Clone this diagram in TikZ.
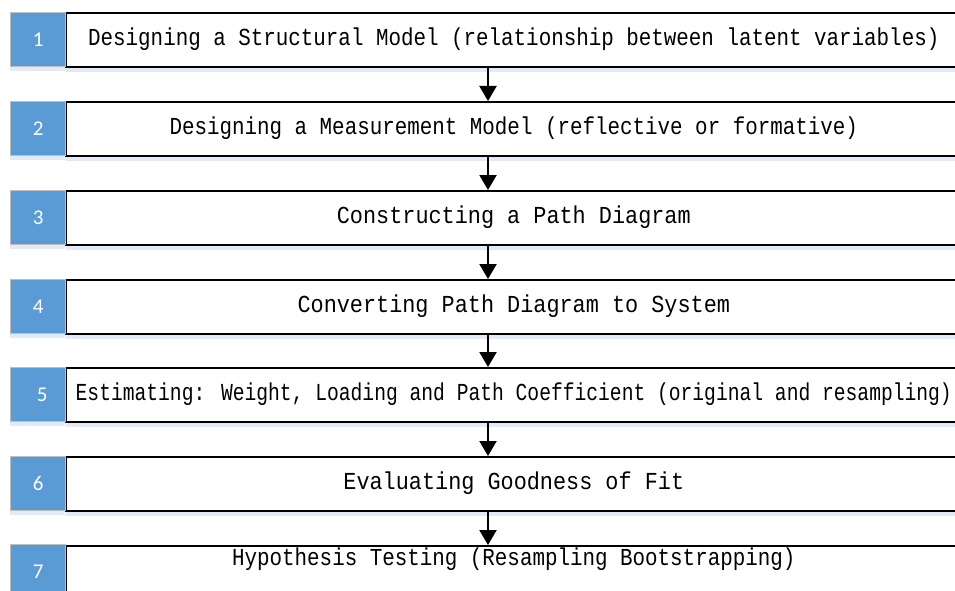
\documentclass[tikz,border=0pt]{standalone}
\usepackage{fontspec}
\newfontfamily\stepfont[FakeStretch=0.895]{Liberation Mono}
\newfontfamily\stepfontnarrow[FakeStretch=0.855]{Liberation Mono}
\newfontfamily\stepfonttight[FakeStretch=0.805]{Liberation Mono}
\newfontfamily\numfont{Carlito}
\usetikzlibrary{arrows.meta,shadows}
\definecolor{numblue}{HTML}{5B9BD5}
\definecolor{numedge}{HTML}{BFBFBF}
\definecolor{shadowblue}{HTML}{E1EAF6}
\tikzset{
    stepbox/.style={draw=black, line width=1.6pt, fill=white, anchor=north west,
        minimum width=896pt, minimum height=54pt, inner sep=0pt,
        text height=17pt, text depth=5pt,
        font={\stepfont\fontsize{24.4}{28}\selectfont},
        drop shadow={shadow xshift=0pt, shadow yshift=-5pt, fill=shadowblue, draw=none, opacity=1}},
    narrow/.style={font={\stepfontnarrow\fontsize{24.4}{28}\selectfont}},
    tight/.style={font={\stepfonttight\fontsize{24.4}{28}\selectfont}},
    numbox/.style={draw=numedge, line width=1.4pt, fill=numblue, anchor=north west,
        minimum width=55pt, minimum height=54pt, inner sep=0pt, text=white,
        font={\numfont\fontsize{21}{24}\selectfont},
        drop shadow={shadow xshift=-1pt, shadow yshift=-4pt, fill=shadowblue, draw=none, opacity=1}},
    flow/.style={line width=2.2pt, -{Triangle[width=17pt,length=15pt]}}
}
\begin{document}
\begin{tikzpicture}[x=1pt, y=-1pt]
        \useasboundingbox (0,0) rectangle (955,591);
        \fill [white] (0,0) rectangle (955,591);
        \coordinate (axis) at (488,0);

        % the seven stages
        \node [stepbox, narrow] (step1) at (65,12) {Designing a Structural Model (relationship between latent variables)};
        \node [numbox] (num1) at (10,12) {1};

        \node [stepbox, narrow] (step2) at (65,101) {Designing a Measurement Model (reflective or formative)};
        \node [numbox] (num2) at (10,101) {2};

        \node [stepbox] (step3) at (65,190) {Constructing a Path Diagram};
        \node [numbox] (num3) at (10,190) {3};

        \node [stepbox] (step4) at (65,279) {Converting Path Diagram to System};
        \node [numbox] (num4) at (10,279) {4};

        \node [stepbox, tight] (step5) at (65,367) {Estimating: Weight, Loading and Path Coefficient (original and resampling)};
        \node [numbox] (num5) at (10,367) {\hspace{8pt}5};

        \node [stepbox] (step6) at (65,456) {Evaluating Goodness of Fit};
        \node [numbox] (num6) at (10,456) {6};

        \node [stepbox, narrow, text depth=31pt] (step7) at (65,545) {Hypothesis Testing (Resampling Bootstrapping)};
        \node [numbox] (num7) at (10,544) {7};

        % arrows between stages
        \draw [flow] (axis |- step1.south) -- (axis |- step2.north);
        \draw [flow] (axis |- step2.south) -- (axis |- step3.north);
        \draw [flow] (axis |- step3.south) -- (axis |- step4.north);
        \draw [flow] (axis |- step4.south) -- (axis |- step5.north);
        \draw [flow] (axis |- step5.south) -- (axis |- step6.north);
        \draw [flow] (axis |- step6.south) -- (axis |- step7.north);
    \end{tikzpicture}
\end{document}
